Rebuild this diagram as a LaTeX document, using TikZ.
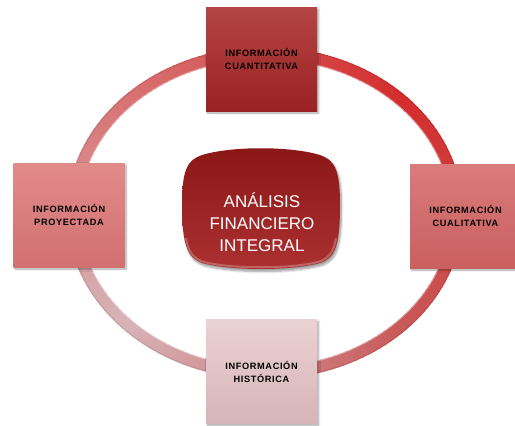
\documentclass[tikz,border=0pt]{standalone}
\usepackage{fontspec}
\setmainfont{Liberation Sans}
\usetikzlibrary{shadows.blur}

% palette
\definecolor{ringLR}{HTML}{C95A5A}
\definecolor{ringLL}{HTML}{D6B4B8}
\definecolor{ringUL}{HTML}{D87272}
\definecolor{ringUR}{HTML}{D42C2C}
\definecolor{boxTop}{HTML}{A82424}
\definecolor{boxRight}{HTML}{D46464}
\definecolor{boxLeft}{HTML}{DD7676}
\definecolor{boxBottom}{HTML}{E2BEC1}
\definecolor{coreRed}{HTML}{A31A1A}

\tikzset{
  infobox/.style={
    draw=none, minimum width=111pt, minimum height=104pt,
    align=center, inner sep=0pt,
    font=\fontsize{9.2}{13}\selectfont\bfseries\addfontfeatures{LetterSpace=7},
    blur shadow={shadow xshift=1.5pt, shadow yshift=-2pt,
                 shadow blur steps=6, shadow opacity=35}
  },
  coretext/.style={
    align=center, text=white, inner sep=0pt,
    font=\fontsize{17}{22}\selectfont
  }
}

\begin{document}
\begin{tikzpicture}[x=1pt, y=-1pt]
\useasboundingbox (0,0) rectangle (515,426);

% ring behind the boxes, coloured segment by segment
\foreach \t in {0,2,...,358}{
  \pgfmathsetmacro\pos{mod(\t-45+360,360)}
  \pgfmathtruncatemacro\seg{floor(\pos/90)}
  \pgfmathsetmacro\frac{100*(\pos-90*\seg)/90}
  \ifcase\seg
    \colorlet{segcol}{ringLL!\frac!ringLR}
  \or
    \colorlet{segcol}{ringUL!\frac!ringLL}
  \or
    \colorlet{segcol}{ringUR!\frac!ringUL}
  \else
    \colorlet{segcol}{ringLR!\frac!ringUR}
  \fi
  \draw[segcol, line width=12.5pt]
    ({265+192*cos(\t)},{213+160*sin(\t)})
    arc[start angle=\t, end angle=\t+2.6, x radius=192, y radius=160];
}
% bevel highlights on the ring
\draw[white, opacity=0.35, line width=1.2pt] (265,213) ellipse [x radius=186, y radius=154];
\draw[black, opacity=0.08, line width=1pt] (265,213) ellipse [x radius=197.5, y radius=165.5];

% outer boxes
\node[infobox, top color=boxTop!85!white, bottom color=boxTop!92!black] (quant) at (261.5,59)
  {INFORMACIÓN\\CUANTITATIVA};
\node[infobox, top color=boxRight!85!white, bottom color=boxRight!95!black] (qual) at (465.5,216)
  {INFORMACIÓN\\CUALITATIVA};
\node[infobox, top color=boxLeft!85!white, bottom color=boxLeft!95!black] (proj) at (69,215)
  {INFORMACIÓN\\PROYECTADA};
\node[infobox, top color=boxBottom!70!white, bottom color=boxBottom!95!black] (hist) at (261.5,371.5)
  {INFORMACIÓN\\HISTÓRICA};

% central pillow shape
\path[blur shadow={shadow xshift=1.5pt, shadow yshift=-2.5pt, shadow blur steps=8, shadow opacity=40},
      top color=coreRed!85!black, bottom color=coreRed!90!white]
  (182,205) .. controls (182,168) and (188,160) .. (202,155)
  .. controls (232,146) and (290,146) .. (320,155)
  .. controls (334,160) and (340,168) .. (340,205)
  .. controls (340,246) and (335,258) .. (320,263)
  .. controls (290,271) and (232,271) .. (202,263)
  .. controls (188,258) and (182,246) .. (182,205) -- cycle;
% lighter rim along the lower edge
\draw[white, opacity=0.25, line width=2pt]
  (186,238) .. controls (188,252) and (194,259) .. (204,262)
  .. controls (232,269) and (290,269) .. (318,262)
  .. controls (328,259) and (334,252) .. (336,238);

\node[coretext] (core) at (262,222) {ANÁLISIS\\FINANCIERO\\INTEGRAL};
\end{tikzpicture}
\end{document}
